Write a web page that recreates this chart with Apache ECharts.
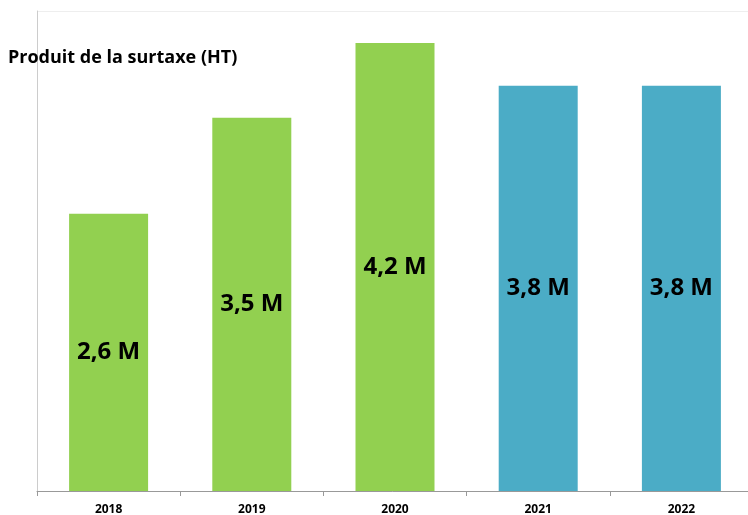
<!DOCTYPE html>
<html lang="fr" style="height: 100%">
<head>
  <meta charset="UTF-8" />
  <title>Produit de la surtaxe</title>
  <script src="https://cdn.jsdelivr.net/npm/echarts@6/dist/echarts.min.js"></script>
  <style>
    html, body { height: 100%; margin: 0; background: #fff; }
    #chart { width: 748px; height: 515px; }
  </style>
</head>
<body>
  <div id="chart"></div>
  <script>
    const years = ['2018', '2019', '2020', '2021', '2022'];
    const values = [2.6, 3.5, 4.2, 3.8, 3.8];
    const barColors = ['#92D050', '#92D050', '#92D050', '#4BACC6', '#4BACC6'];

    const chart = echarts.init(document.getElementById('chart'));

    chart.setOption({
      animation: false,
      backgroundColor: '#fff',
      title: {
        text: 'Produit de la surtaxe (HT)',
        left: 3,
        top: 44,
        textStyle: {
          fontFamily: 'Open Sans',
          fontWeight: 'bold',
          fontSize: 18,
          color: '#000'
        }
      },
      grid: { left: 37, width: 716, top: 11, height: 480, outerBoundsMode: 'none' },
      xAxis: {
        type: 'category',
        data: years,
        axisLine: { lineStyle: { color: '#999', width: 1 } },
        axisTick: { show: true, length: 5, lineStyle: { color: '#999' } },
        axisLabel: {
          margin: 13,
          fontFamily: 'Open Sans',
          fontWeight: 'bold',
          fontSize: 12,
          color: '#000'
        }
      },
      yAxis: {
        type: 'value',
        min: 0,
        max: 4.5,
        interval: 4.5,
        axisLine: { show: true, lineStyle: { color: '#ccc' } },
        axisTick: { show: false },
        axisLabel: { show: false },
        splitLine: { show: true, lineStyle: { color: '#eee' } }
      },
      series: [{
        type: 'bar',
        barWidth: 79,
        data: values.map((v, i) => ({ value: v, itemStyle: { color: barColors[i] } })),
        label: {
          show: true,
          position: 'inside',
          formatter: p => String(p.value).replace('.', ',') + ' M',
          fontFamily: 'Open Sans',
          fontWeight: 'bold',
          fontSize: 24,
          color: '#000'
        }
      }]
    });
  </script>
</body>
</html>
